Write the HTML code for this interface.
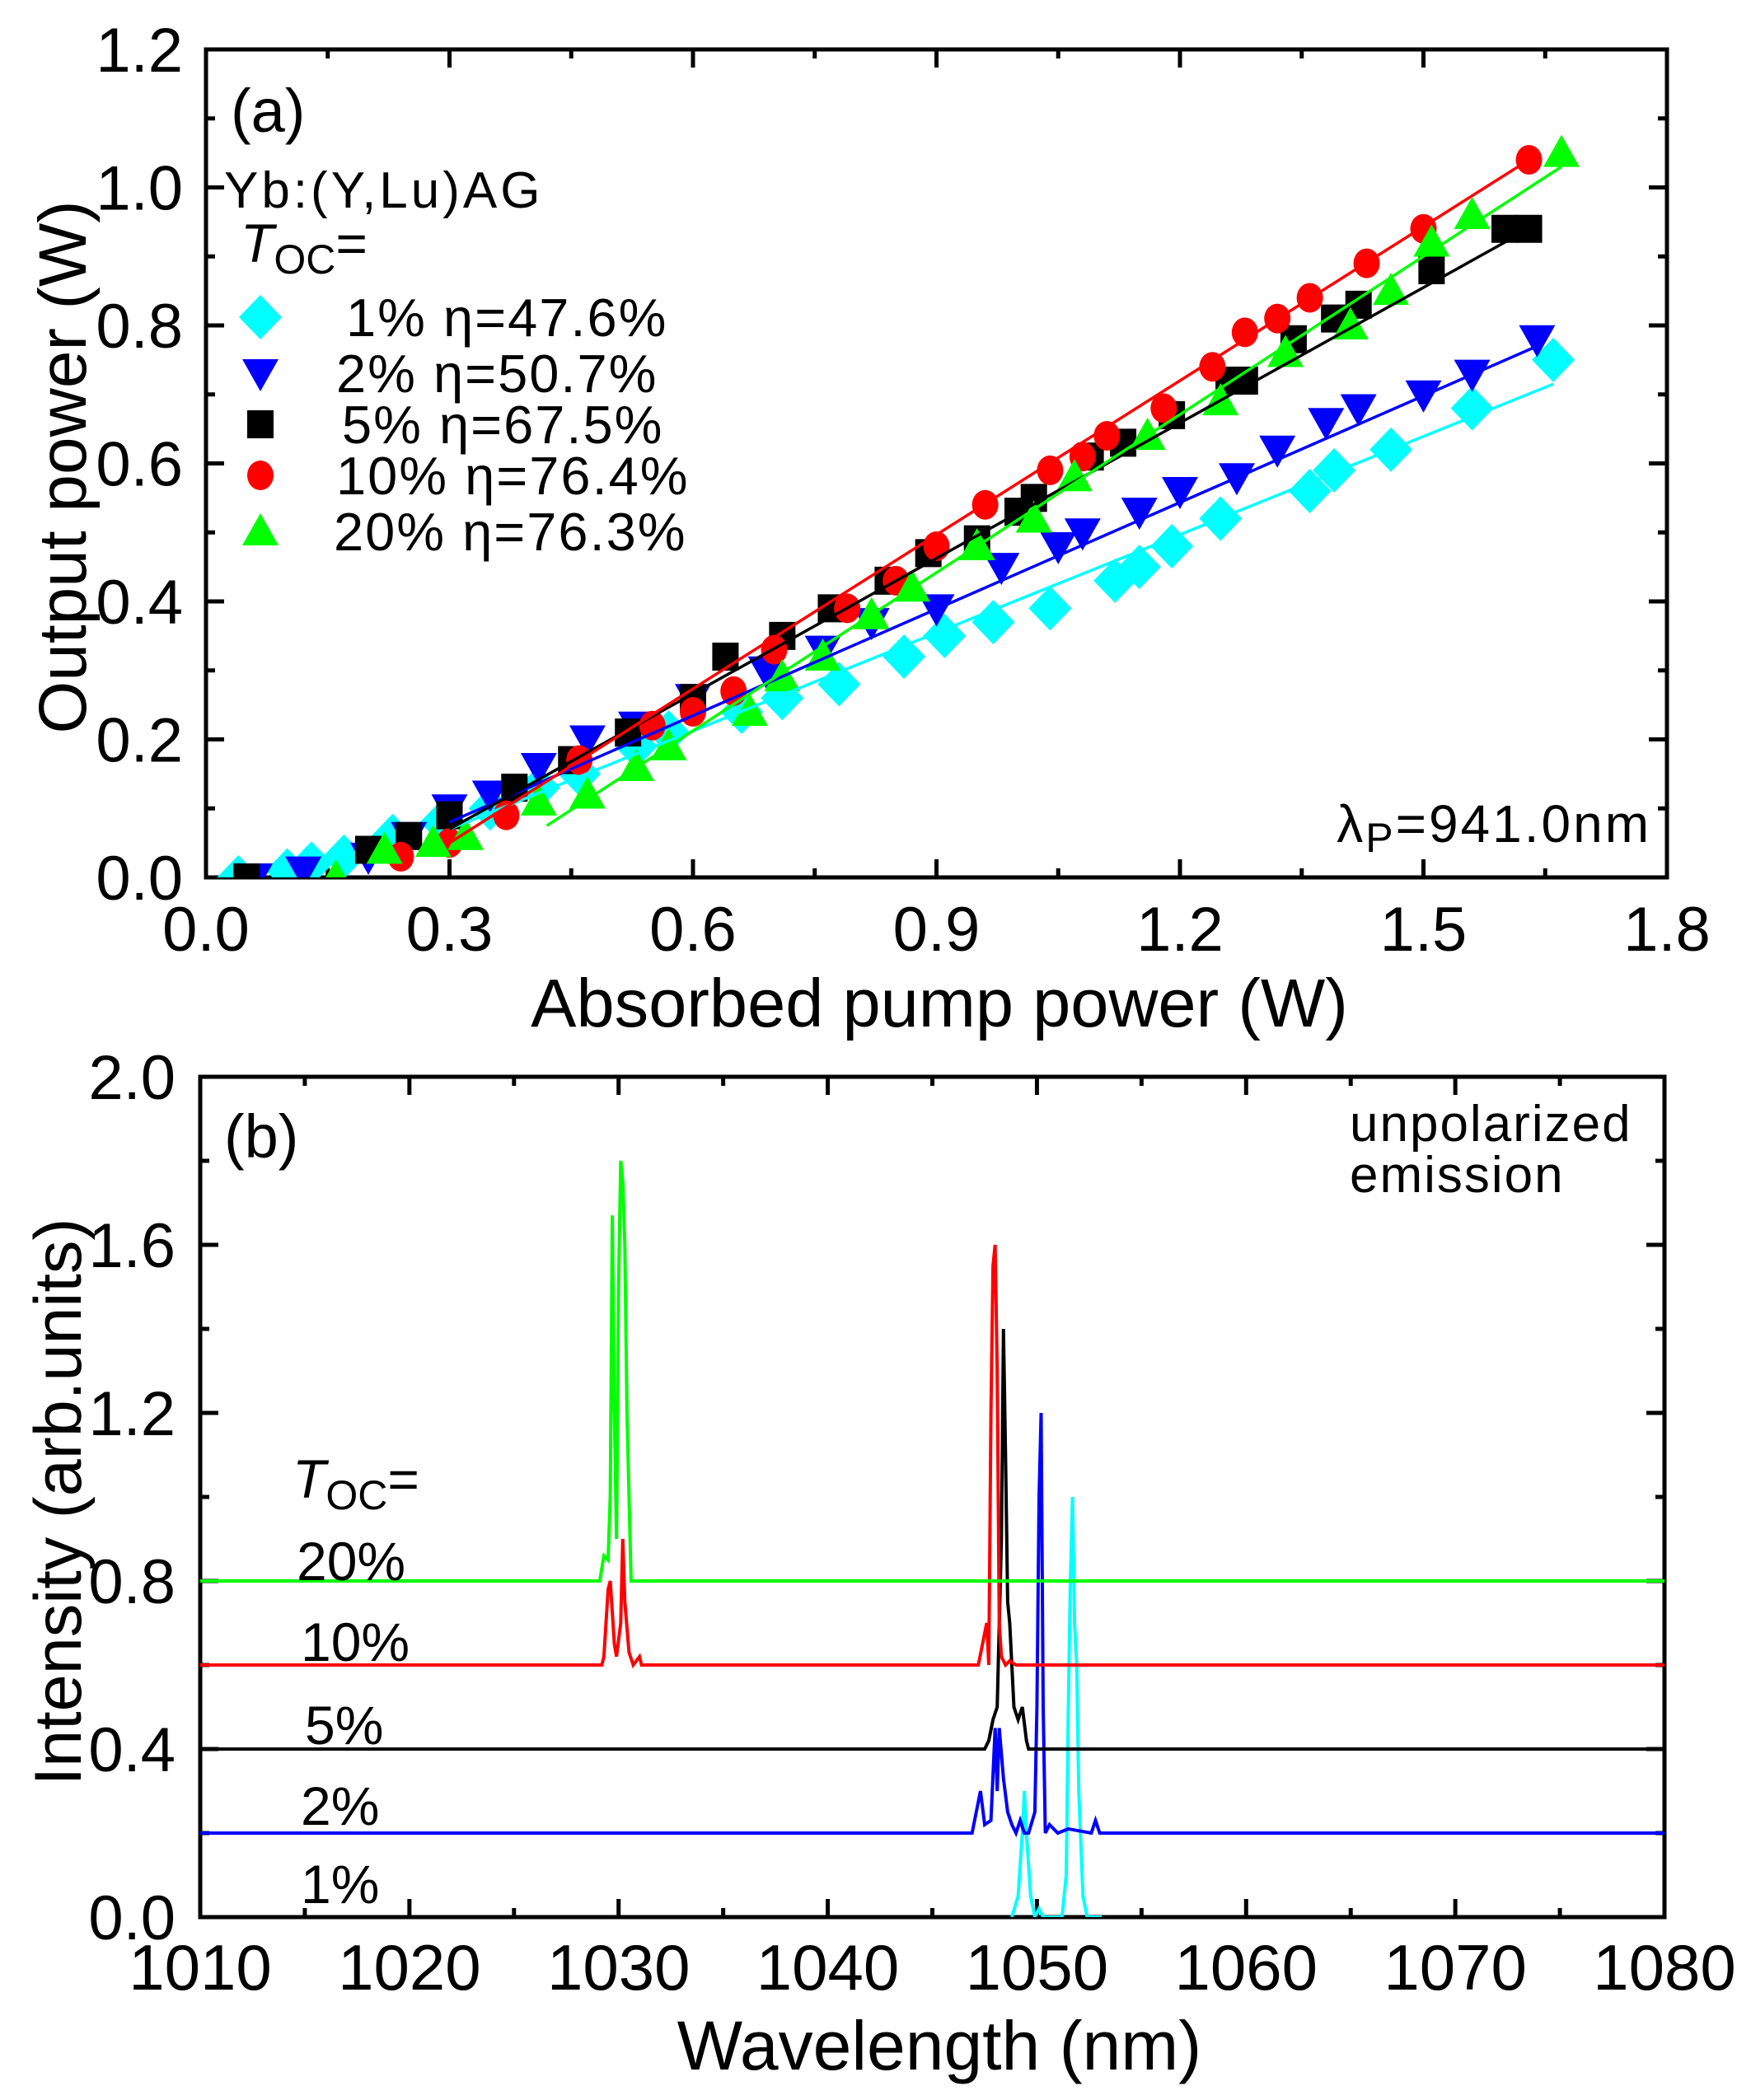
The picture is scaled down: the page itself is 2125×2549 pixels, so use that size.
<!DOCTYPE html>
<html><head><meta charset="utf-8"><style>
html,body{margin:0;padding:0;background:#fff}
svg{display:block}
text{font-family:"Liberation Sans",Arial,sans-serif;fill:#000}
</style></head><body>
<svg id="fig" width="2125" height="2549" viewBox="0 0 2125 2549" xmlns="http://www.w3.org/2000/svg">
<defs>
<clipPath id="clipA"><rect x="250" y="60" width="1773" height="1005"/></clipPath>
<clipPath id="clipB"><rect x="243" y="1307" width="1777" height="1020"/></clipPath>
</defs>
<g id="panelA"></g>
<g id="panelB"></g>
</svg>
<script>
// ===== Panel (a) data =====
const aXTicks = ["0.0","0.3","0.6","0.9","1.2","1.5","1.8"];
const aYTicks = ["0.0","0.2","0.4","0.6","0.8","1.0","1.2"];
const oc1x = [0.04,0.1,0.13,0.17,0.23,0.29,0.35,0.41,0.46,0.53,0.57,0.66,0.71,0.78,0.86,0.91,0.97,1.04,1.12,1.15,1.19,1.25,1.36,1.39,1.46,1.56,1.66];
const oc1y = [0.0,0.01,0.02,0.03,0.06,0.08,0.1,0.13,0.15,0.19,0.21,0.24,0.26,0.28,0.32,0.35,0.37,0.39,0.43,0.45,0.48,0.52,0.56,0.59,0.62,0.68,0.75];
const oc2x = [0.06,0.12,0.2,0.25,0.3,0.35,0.41,0.47,0.53,0.6,0.69,0.76,0.82,0.9,0.98,1.05,1.08,1.15,1.2,1.27,1.32,1.38,1.42,1.5,1.56,1.64];
const oc2y = [0.0,0.01,0.03,0.06,0.1,0.12,0.16,0.2,0.22,0.26,0.3,0.33,0.37,0.39,0.45,0.48,0.5,0.53,0.56,0.58,0.62,0.66,0.68,0.7,0.73,0.78];
const oc5x = [0.05,0.2,0.25,0.3,0.38,0.45,0.52,0.6,0.64,0.71,0.77,0.84,0.89,0.95,1.0,1.02,1.09,1.13,1.19,1.26,1.28,1.34,1.39,1.42,1.51,1.6,1.63];
const oc5y = [0.0,0.04,0.06,0.09,0.13,0.17,0.21,0.26,0.32,0.35,0.39,0.43,0.47,0.49,0.53,0.55,0.61,0.63,0.67,0.72,0.72,0.78,0.81,0.83,0.88,0.94,0.94];
const oc10x = [0.24,0.3,0.37,0.46,0.55,0.6,0.65,0.7,0.79,0.85,0.9,0.96,1.04,1.08,1.11,1.18,1.24,1.28,1.32,1.36,1.43,1.5,1.63];
const oc10y = [0.03,0.05,0.09,0.17,0.22,0.24,0.27,0.33,0.39,0.43,0.48,0.54,0.59,0.61,0.64,0.68,0.74,0.79,0.81,0.84,0.89,0.94,1.04];
const oc20x = [0.16,0.22,0.28,0.32,0.41,0.47,0.53,0.57,0.67,0.71,0.76,0.82,0.87,0.95,1.02,1.07,1.16,1.25,1.33,1.41,1.46,1.51,1.56,1.67];
const oc20y = [0.0,0.04,0.05,0.06,0.11,0.12,0.16,0.19,0.24,0.29,0.32,0.38,0.42,0.48,0.52,0.58,0.64,0.69,0.76,0.8,0.85,0.92,0.96,1.05];
const fit1 = [[0.3,0.07],[1.66,0.715]];
const fit2 = [[0.3,0.08],[1.64,0.77]];
const fit5 = [[0.3,0.07],[1.63,0.94]];
const fit10 = [[0.3,0.05],[1.63,1.04]];
const fit20 = [[0.42,0.075],[1.67,1.03]];
const legendLabels = ["1% \u03b7=47.6%","2% \u03b7=50.7%","5% \u03b7=67.5%","10% \u03b7=76.4%","20% \u03b7=76.3%"];

// ===== Panel (b) data =====
const bXTicks = ["1010","1020","1030","1040","1050","1060","1070","1080"];
const bYTicks = ["0.0","0.4","0.8","1.2","1.6","2.0"];
const sp20w = [1010,1029.1,1029.3,1029.5,1029.6,1029.7,1029.8,1029.9,1030.0,1030.1,1030.2,1030.3,1030.4,1030.5,1030.6,1030.7,1080];
const sp20i = [0.8,0.8,0.86,0.85,1.0,1.67,1.2,0.9,1.5,1.8,1.75,1.6,1.2,1.0,0.8,0.8,0.8];
const sp10w = [1010,1029.2,1029.3,1029.5,1029.6,1029.8,1029.9,1030.1,1030.2,1030.3,1030.5,1030.7,1031.0,1031.1,1031.3,1047.2,1047.6,1047.7,1047.8,1047.9,1048.0,1048.1,1048.2,1048.3,1048.5,1048.7,1049.0,1080];
const sp10i = [0.6,0.6,0.62,0.78,0.8,0.65,0.62,0.7,0.9,0.75,0.63,0.6,0.62,0.6,0.6,0.6,0.7,0.6,1.2,1.55,1.6,1.3,0.7,0.62,0.6,0.61,0.6,0.6];
const sp5w = [1010,1047.5,1047.7,1047.9,1048.1,1048.3,1048.4,1048.5,1048.6,1048.7,1048.9,1049.1,1049.3,1049.5,1049.6,1080];
const sp5i = [0.4,0.4,0.42,0.47,0.5,0.9,1.4,1.1,0.75,0.7,0.5,0.47,0.5,0.42,0.4,0.4];
const sp2w = [1010,1046.9,1047.1,1047.3,1047.5,1047.8,1048.0,1048.1,1048.2,1048.4,1048.6,1048.8,1049.0,1049.2,1049.4,1049.6,1049.9,1050.0,1050.1,1050.2,1050.3,1050.4,1050.6,1051.0,1051.5,1052.6,1052.8,1053.0,1080];
const sp2i = [0.2,0.2,0.25,0.3,0.22,0.23,0.45,0.3,0.45,0.33,0.25,0.22,0.2,0.23,0.2,0.2,0.25,0.5,1.0,1.2,0.5,0.2,0.22,0.2,0.21,0.2,0.23,0.2,0.2];
const sp1w = [1048.8,1049.1,1049.3,1049.4,1049.5,1049.7,1049.9,1050.1,1050.3,1051.2,1051.4,1051.5,1051.6,1051.7,1051.8,1051.9,1052.0,1052.2,1052.4,1053.1];
const sp1i = [0.0,0.05,0.2,0.3,0.2,0.05,0.0,0.02,0.0,0.0,0.1,0.5,0.8,1.0,0.7,0.6,0.3,0.05,0.0,0.0];
const spLabels = ["20%","10%","5%","2%","1%"];

const NS = "http://www.w3.org/2000/svg";
function mk(parent, tag, attrs, txt){
  const e = document.createElementNS(NS, tag);
  for (const k in attrs) e.setAttribute(k, attrs[k]);
  if (txt !== undefined) e.textContent = txt;
  parent.appendChild(e);
  return e;
}
const aL=250,aR=2023,aT=60,aB=1065;
const ax = v => aL + v/1.8*(aR-aL);
const ay = v => aB - v/1.2*(aB-aT);
const bL=243,bR=2020,bT=1307,bB=2327;
const bx = v => bL + (v-1010)/70*(bR-bL);
const by = v => bB - v/2.0*(bB-bT);

const A = document.getElementById('panelA');
const B = document.getElementById('panelB');

function frame(g, L, R, T, Bt, nx, ny, name){
  const f = mk(g,'rect',{x:L,y:T,width:R-L,height:Bt-T,fill:'none',stroke:'#000','stroke-width':5});
  
  
  for (let i=0;i<=nx*2;i++){
    const x = L + i*(R-L)/(nx*2); const len = i%2? 11:22;
    mk(g,'line',{x1:x,y1:Bt,x2:x,y2:Bt-len,stroke:'#000','stroke-width':5});
    mk(g,'line',{x1:x,y1:T,x2:x,y2:T+len,stroke:'#000','stroke-width':5});
  }
  for (let i=0;i<=ny*2;i++){
    const y = Bt - i*(Bt-T)/(ny*2); const len = i%2? 11:22;
    mk(g,'line',{x1:L,y1:y,x2:L+len,y2:y,stroke:'#000','stroke-width':5});
    mk(g,'line',{x1:R,y1:y,x2:R-len,y2:y,stroke:'#000','stroke-width':5});
  }
}
function marker(g, type, cx, cy, color){
  let e;
  if (type==='diamond') e=mk(g,'polygon',{points:`${cx},${cy-27} ${cx+26},${cy} ${cx},${cy+27} ${cx-26},${cy}`,fill:color});
  else if (type==='down') e=mk(g,'polygon',{points:`${cx-22},${cy-17} ${cx+22},${cy-17} ${cx},${cy+22}`,fill:color});
  else if (type==='up') e=mk(g,'polygon',{points:`${cx-22},${cy+17} ${cx+22},${cy+17} ${cx},${cy-22}`,fill:color});
  else if (type==='square') e=mk(g,'rect',{x:cx-16,y:cy-17,width:32,height:34,fill:color});
  else e=mk(g,'ellipse',{cx:cx,cy:cy,rx:16,ry:18,fill:color});
  return e;
}

// ---- Panel A ----
frame(A,aL,aR,aT,aB,6,6,'panel-a');
aXTicks.forEach((t,i)=>{
  const e=mk(A,'text',{x:ax(i*0.3),y:1154,'font-size':76,'text-anchor':'middle'},t);
  
  
});
aYTicks.forEach((t,i)=>{
  const e=mk(A,'text',{x:222,y:ay(i*0.2)+27,'font-size':76,'text-anchor':'end'},t);
  
  
});
let e;
e=mk(A,'text',{x:1140,y:1246,'font-size':83,'text-anchor':'middle'},'Absorbed pump power (W)');
 
e=mk(A,'text',{x:0,y:0,'font-size':82,'text-anchor':'middle',transform:'translate(104,567) rotate(-90)'},'Output power (W)');
 

const ser = [
  {x:oc1x,y:oc1y,fit:fit1,c:'#00ffff',m:'diamond',n:'series-1pct'},
  {x:oc2x,y:oc2y,fit:fit2,c:'#0000ff',m:'down',n:'series-2pct'},
  {x:oc5x,y:oc5y,fit:fit5,c:'#000000',m:'square',n:'series-5pct'},
  {x:oc10x,y:oc10y,fit:fit10,c:'#ff0000',m:'circle',n:'series-10pct'},
  {x:oc20x,y:oc20y,fit:fit20,c:'#00ff00',m:'up',n:'series-20pct'}
];
const clipA = mk(A,'g',{'clip-path':'url(#clipA)'});
ser.forEach(s=>{
  const g=mk(clipA,'g',{});
  
  
  s.x.forEach((xv,i)=>{
    const m=marker(g,s.m,ax(xv),ay(s.y[i]),s.c);
    
    
  });
});
ser.forEach(s=>{
  const l=mk(clipA,'line',{x1:ax(s.fit[0][0]),y1:ay(s.fit[0][1]),x2:ax(s.fit[1][0]),y2:ay(s.fit[1][1]),stroke:s.c,'stroke-width':3.5});
  
  
});
e=mk(A,'text',{x:280,y:160,'font-size':74},'(a)');
 
e=mk(A,'text',{x:272,y:252,'font-size':62,'letter-spacing':4},'Yb:(Y,Lu)AG');
 
e=mk(A,'text',{x:292,y:318,'font-size':66});
 
mk(e,'tspan',{'font-style':'italic'},'T');
mk(e,'tspan',{'font-size':50,dy:14},'OC');
mk(e,'tspan',{dy:-14},'=');
const legY=[385,453,515,577,645];
const legX=[420,408,415,408,405];
legendLabels.forEach((t,i)=>{
  const g=mk(A,'g',{});
  
  
  marker(g,ser[i].m,316,legY[i],ser[i].c);
  mk(g,'text',{x:legX[i],y:legY[i]+23,'font-size':65,'letter-spacing':2},t);
});
e=mk(A,'text',{x:2004,y:1022,'font-size':64,'text-anchor':'end','letter-spacing':3});
 
mk(e,'tspan',{},'\u03bb');
mk(e,'tspan',{'font-size':50,dy:12},'P');
mk(e,'tspan',{dy:-12},'=941.0nm');

// ---- Panel B ----
frame(B,bL,bR,bT,bB,7,5,'panel-b');
bXTicks.forEach((t,i)=>{
  const e=mk(B,'text',{x:bx(1010+i*10),y:2415,'font-size':78,'text-anchor':'middle'},t);
  
  
});
bYTicks.forEach((t,i)=>{
  const e=mk(B,'text',{x:213,y:by(i*0.4)+27,'font-size':76,'text-anchor':'end'},t);
  
  
});
e=mk(B,'text',{x:1140,y:2512,'font-size':84,'text-anchor':'middle'},'Wavelength (nm)');
 
e=mk(B,'text',{x:0,y:0,'font-size':81,'text-anchor':'middle',transform:'translate(98,1823) rotate(-90)'},'Intensity (arb.units)');
 
const spec=[
  {w:sp20w,i:sp20i,c:'#00ff00',n:'spectrum-20pct'},
  {w:sp10w,i:sp10i,c:'#ff0000',n:'spectrum-10pct'},
  {w:sp5w,i:sp5i,c:'#000000',n:'spectrum-5pct'},
  {w:sp2w,i:sp2i,c:'#0000ff',n:'spectrum-2pct'},
  {w:sp1w,i:sp1i,c:'#00ffff',n:'spectrum-1pct'}
];
const clipB = mk(B,'g',{'clip-path':'url(#clipB)'});
spec.slice().reverse().forEach(s=>{
  const pts=s.w.map((w,k)=>bx(w).toFixed(1)+','+by(s.i[k]).toFixed(1)).join(' ');
  const p=mk(clipB,'polyline',{points:pts,fill:'none',stroke:s.c,'stroke-width':4,'stroke-linejoin':'miter'});
  
  
});
e=mk(B,'text',{x:272,y:1405,'font-size':74},'(b)');
 
e=mk(B,'text',{x:1638,y:1385,'font-size':62,'letter-spacing':2},'unpolarized');
 
e=mk(B,'text',{x:1638,y:1447,'font-size':62,'letter-spacing':2},'emission');
 
e=mk(B,'text',{x:355,y:1818,'font-size':66});
 
mk(e,'tspan',{'font-style':'italic'},'T');
mk(e,'tspan',{'font-size':50,dy:14},'OC');
mk(e,'tspan',{dy:-14},'=');
const spY=[1918,2016,2117,2215,2310];
const spX=[360,365,370,365,365];
spLabels.forEach((t,i)=>{
  const e=mk(B,'text',{x:spX[i],y:spY[i],'font-size':66},t);
  
  
});
</script>
</body></html>
